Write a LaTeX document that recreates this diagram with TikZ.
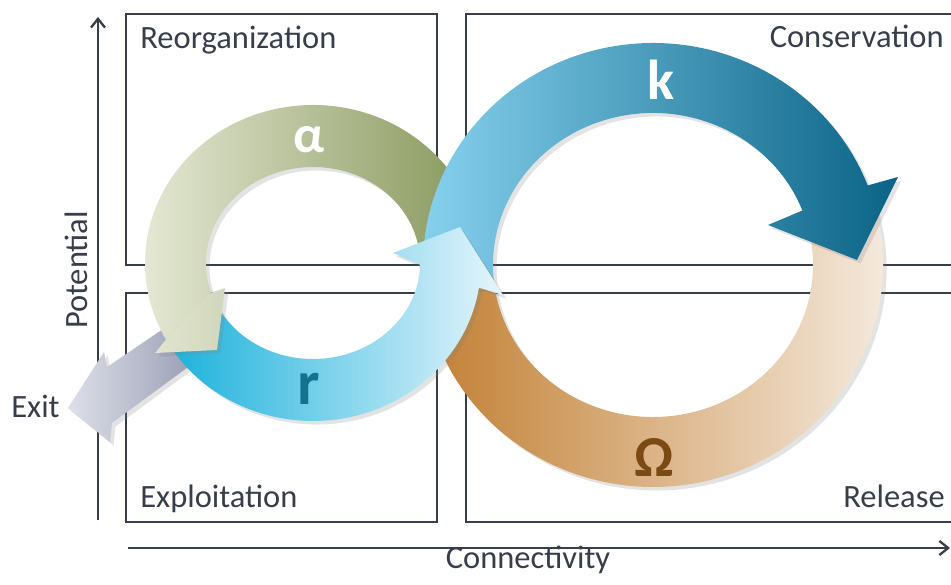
\documentclass[tikz,border=0pt]{standalone}
\usepackage{fontspec}
\setmainfont{Carlito}
\usetikzlibrary{arrows.meta,calc,shadows}
\definecolor{ink}{HTML}{383D4A}
\definecolor{alphalo}{HTML}{E6E9D6}
\definecolor{alphahi}{HTML}{86965A}
\definecolor{klo}{HTML}{8AD4F1}
\definecolor{khi}{HTML}{0A6386}
\definecolor{rlo}{HTML}{1DB2DC}
\definecolor{rhi}{HTML}{E6F5FB}
\definecolor{omlo}{HTML}{C27F33}
\definecolor{omhi}{HTML}{F7EFE6}
\definecolor{exitlo}{HTML}{DDE0E8}
\definecolor{exithi}{HTML}{989CB3}
\definecolor{omtext}{HTML}{7A4914}
\definecolor{rtext}{HTML}{14728F}

\begin{document}
\begin{tikzpicture}[x=0.02cm,y=0.02cm,
  frame/.style={draw=ink,line width=1.3pt},
  axis/.style={draw=ink,line width=1.3pt,-{Straight Barb[length=5pt,width=8pt]}},
  tag/.style={text=ink,font=\fontsize{18.5}{22}\selectfont,inner sep=0pt},
  band/.style={drop shadow={opacity=.22,shadow xshift=2pt,shadow yshift=-2pt}},
  greek/.style={font=\fontsize{30}{34}\selectfont\bfseries,inner sep=0pt}]
\useasboundingbox (0,0) rectangle (951,585);

% the four phase boxes
\draw[frame] (126,571) rectangle (437,320);
\draw[frame] (951,571) -| (466,320) -- (951,320);
\draw[frame] (126,292) rectangle (437,63);
\draw[frame] (951,292) -| (466,63) -- (951,63);

% axes
\coordinate (potbot) at (98,65);
\coordinate (pottop) at (98,568);
\coordinate (conleft) at (128,37);
\coordinate (conright) at (950,37);
\draw[axis] (potbot) -- (pottop);
\draw[axis] (conleft) -- (conright);

\node[tag,anchor=base west] (reorg) at (140,536) {Reorganization};
\node[tag,anchor=base east] (cons) at (944,537) {Conservation};
\node[tag,anchor=base west] (exploit) at (140,77) {Exploitation};
\node[tag,anchor=base east] (release) at (945,77) {Release};
\node[tag,anchor=base] (connect) at (528,16) {Connectivity};
\node[tag,anchor=base,rotate=90] (potential) at (87,315) {Potential};
\node[tag,anchor=base west] (exit) at (11,167) {Exit};

% loop centres
\coordinate (lc) at (313,322);
\coordinate (rc) at (653,320);

% exit arrow
\path[band,left color=exitlo,right color=exithi]
  (199,226) -- (112,162) -- (110,143) -- (68,177) -- (104,233) -- (107,218) -- (175,264) -- cycle;

% omega: release
\path[band,left color=omlo,right color=omhi]
  ($(rc)+(18:230 and 222)$) arc[start angle=18,end angle=-172,x radius=230,y radius=222]
  -- ($(rc)+(-172:160 and 152)$) arc[start angle=-172,end angle=18,x radius=160,y radius=152] -- cycle;

% alpha: reorganization
\path[band,left color=alphalo,right color=alphahi]
  ($(lc)+(5:168 and 158)$) arc[start angle=5,end angle=209,x radius=168,y radius=158]
  -- ($(lc)+(198:107 and 96)$) arc[start angle=198,end angle=5,x radius=107,y radius=96] -- cycle;

% k: conservation
\path[band,left color=klo,right color=khi]
  ($(rc)+(188:230 and 222)$) arc[start angle=188,end angle=21,x radius=230,y radius=222]
  -- (898,408) -- (857,325) -- (768,360)
  -- ($(rc)+(21:160 and 152)$) arc[start angle=21,end angle=188,x radius=160,y radius=152] -- cycle;

% r: exploitation
\path[band,left color=rlo,right color=rhi]
  ($(lc)+(212:168 and 158)$) arc[start angle=212,end angle=351,x radius=168,y radius=158]
  -- (503,290) -- (460,358) -- (393,332)
  -- ($(lc)+(359:107 and 96)$) arc[start angle=359,end angle=204,x radius=107,y radius=96] -- cycle;

% alpha head over the start of r
\path[band,left color=alphalo!95!alphahi,right color=alphalo!78!alphahi]
  ($(lc)+(209:168 and 158)$) -- (155,232) -- (217,235) -- (225,297)
  -- ($(lc)+(198:107 and 96)$) -- cycle;

\node[greek,text=white] (alpha) at (309,445) {α};
\node[greek,text=white,font=\fontsize{32}{36}\selectfont\bfseries] (kay) at (661,505) {k};
\node[greek,text=rtext,font=\fontsize{36}{40}\selectfont\bfseries] (arr) at (309,196) {r};
\node[greek,text=omtext,font=\fontsize{33}{38}\selectfont\bfseries] (omega) at (654,128) {Ω};
\end{tikzpicture}
\end{document}
